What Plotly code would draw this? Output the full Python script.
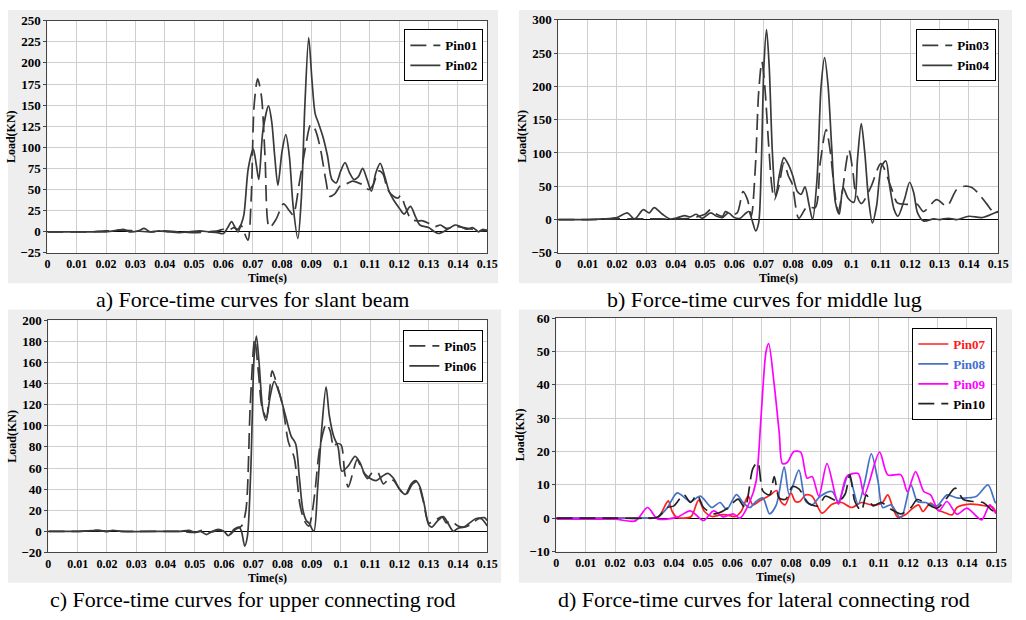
import plotly.graph_objects as go

# ---------------- data (time s, load kN) ----------------
PIN01 = [(0,0),(0.005,0),(0.01,0),(0.015,0),(0.02,1),(0.025,2),(0.03,1),(0.035,0),(0.04,1),(0.045,0),
         (0.05,-1),(0.055,0),(0.058,1),(0.06,3),(0.062,2),(0.0635,5),(0.065,3),(0.066,8),(0.067,0),(0.0684,-10),
         (0.0695,40),(0.0705,150),(0.0717,181),(0.073,160),(0.0742,90),(0.0757,5),(0.078,15),(0.0805,33),(0.0825,25),
         (0.0838,20),(0.086,60),(0.088,100),(0.0898,127),(0.0912,122),(0.093,100),(0.095,60),(0.0962,42),(0.098,45),
         (0.1,55),(0.102,57),(0.104,60),(0.106,58),(0.108,55),(0.1095,50),(0.111,55),(0.113,72),(0.1145,68),(0.116,50),
         (0.118,42),(0.1195,40),(0.1205,43),(0.122,30),(0.124,15),(0.126,13),(0.128,13),(0.13,10),(0.132,6),(0.134,8),
         (0.136,4),(0.138,5),(0.14,6),(0.142,5),(0.145,3),(0.147,1),(0.15,2)]
PIN02 = [(0,0),(0.01,0),(0.02,0),(0.024,2),(0.026,3),(0.028,0),(0.031,1),(0.033,4),(0.035,0),(0.038,1),(0.041,0),
         (0.045,-1),(0.048,0),(0.052,1),(0.055,0),(0.058,-1),(0.06,-2),(0.0615,5),(0.0628,12),(0.064,5),(0.065,0),
         (0.066,8),(0.067,20),(0.0685,75),(0.0702,98),(0.0712,80),(0.0721,62),(0.0735,120),(0.0754,149),(0.0765,130),
         (0.0775,90),(0.0786,55),(0.08,95),(0.0813,115),(0.0825,90),(0.0838,30),(0.0854,-8),(0.0866,40),(0.0878,150),
         (0.0891,230),(0.0902,180),(0.0913,140),(0.0925,128),(0.094,112),(0.0955,90),(0.097,62),(0.0985,58),(0.1,72),
         (0.1015,82),(0.103,70),(0.1045,62),(0.106,65),(0.1075,75),(0.109,62),(0.1105,48),(0.112,70),(0.1135,81),
         (0.115,66),(0.1165,48),(0.118,38),(0.12,28),(0.1216,21),(0.1238,30),(0.1255,18),(0.127,8),(0.13,5),(0.132,0),
         (0.1334,-2),(0.136,2),(0.139,8),(0.141,6),(0.143,3),(0.145,5),(0.147,0),(0.1485,3),(0.15,1)]
PIN03 = [(0,0),(0.01,0),(0.02,1),(0.03,1),(0.04,1),(0.045,2),(0.048,5),(0.05,8),(0.052,15),(0.054,8),(0.056,5),
         (0.057,12),(0.059,8),(0.061,10),(0.063,42),(0.0645,30),(0.0658,5),(0.0672,80),(0.0683,190),(0.0694,237),
         (0.0704,200),(0.0716,120),(0.0728,50),(0.0737,30),(0.0752,50),(0.0769,85),(0.0785,65),(0.0797,54),(0.082,2),
         (0.0848,19),(0.0876,18),(0.0893,85),(0.0913,135),(0.0928,100),(0.094,50),(0.0954,12),(0.0968,40),(0.098,80),
         (0.0991,105),(0.1005,70),(0.1012,45),(0.1033,24),(0.1066,49),(0.11,84),(0.1134,49),(0.1156,25),(0.118,23),
         (0.1205,23),(0.1224,23),(0.1245,12),(0.129,30),(0.1325,20),(0.1358,45),(0.1385,50),(0.141,48),(0.1435,38),
         (0.146,24),(0.1487,10),(0.15,12)]
PIN04 = [(0,0),(0.01,0),(0.015,1),(0.02,3),(0.0235,10),(0.026,1),(0.029,15),(0.031,10),(0.0327,18),(0.0355,8),
         (0.038,1),(0.04,2),(0.043,6),(0.045,4),(0.047,8),(0.049,2),(0.052,10),(0.054,5),(0.056,3),(0.058,10),(0.06,3),
         (0.062,2),(0.064,10),(0.065,12),(0.066,0),(0.0673,-17),(0.0683,-5),(0.0692,80),(0.0701,230),(0.071,285),
         (0.0719,230),(0.073,100),(0.0741,35),(0.0755,70),(0.0769,93),(0.0785,82),(0.08,65),(0.0815,42),(0.0828,38),
         (0.0841,49),(0.0855,22),(0.0867,0),(0.0882,60),(0.0896,200),(0.0908,243),(0.092,200),(0.0932,110),(0.0945,25),
         (0.0958,8),(0.0971,48),(0.0988,32),(0.1008,26),(0.102,90),(0.1033,144),(0.1045,100),(0.1058,30),(0.1071,-5),
         (0.1085,20),(0.1102,80),(0.1117,88),(0.113,50),(0.1145,15),(0.1158,5),(0.118,30),(0.1198,56),(0.1212,40),
         (0.1225,10),(0.1245,-2),(0.128,1),(0.13,0),(0.133,2),(0.1358,0),(0.14,5),(0.1445,3),(0.1487,10),(0.15,12)]
PIN05 = [(0,0),(0.01,0),(0.017,1),(0.02,0),(0.022,1),(0.025,0),(0.03,0),(0.04,0),(0.045,0),(0.05,-1),(0.053,1),
         (0.055,-1),(0.058,1),(0.06,0),(0.062,-3),(0.064,2),(0.066,5),(0.0675,20),(0.069,120),(0.0705,182),(0.0718,150),
         (0.073,118),(0.0745,108),(0.0755,130),(0.0765,152),(0.078,140),(0.08,120),(0.082,85),(0.084,70),(0.086,25),
         (0.0875,10),(0.089,5),(0.0898,12),(0.091,35),(0.0928,80),(0.095,102),(0.0963,95),(0.0975,80),(0.0985,83),
         (0.1,82),(0.1013,55),(0.1025,42),(0.104,55),(0.1055,68),(0.107,60),(0.109,50),(0.1105,55),(0.1125,56),
         (0.1145,45),(0.1165,50),(0.118,48),(0.12,40),(0.122,34),(0.1245,45),(0.126,47),(0.128,30),(0.13,8),(0.132,10),
         (0.1345,14),(0.136,8),(0.1375,10),(0.14,5),(0.142,4),(0.144,6),(0.147,12),(0.149,13),(0.15,10)]
PIN06 = [(0,0),(0.01,0),(0.017,1),(0.02,0),(0.022,1),(0.025,0),(0.04,0),(0.045,0),(0.048,1),(0.05,-1),(0.052,0),
         (0.054,-3),(0.056,0),(0.058,2),(0.06,0),(0.0615,-4),(0.0635,2),(0.0652,4),(0.066,0),(0.0671,-14),(0.068,-5),
         (0.0692,60),(0.0703,165),(0.0711,185),(0.072,160),(0.0733,115),(0.0744,105),(0.0758,128),(0.0772,142),
         (0.079,130),(0.081,110),(0.083,90),(0.0845,83),(0.0858,50),(0.087,20),(0.0882,10),(0.089,8),(0.0907,0),
         (0.092,40),(0.0935,100),(0.0949,137),(0.096,110),(0.0975,90),(0.099,80),(0.1003,57),(0.1025,62),(0.1048,71),
         (0.1065,65),(0.108,55),(0.11,50),(0.112,48),(0.114,52),(0.116,55),(0.118,50),(0.12,40),(0.122,35),(0.124,45),
         (0.1255,48),(0.127,42),(0.1285,25),(0.13,6),(0.1311,4),(0.133,10),(0.135,14),(0.1365,8),(0.1384,0),(0.14,3),
         (0.142,4),(0.144,8),(0.146,12),(0.148,12),(0.15,5)]
PIN07 = [(0,0),(0.01,0),(0.02,0),(0.03,0),(0.033,0),(0.035,0.5),(0.0375,4.5),(0.0382,5.2),(0.0395,2),(0.041,0.3),
         (0.0435,0),(0.046,0.5),(0.0485,5.4),(0.0505,2),(0.053,0.5),(0.056,1),(0.058,1),(0.061,0.5),(0.063,2),
         (0.0654,6.6),(0.067,4),(0.069,5),(0.071,6),(0.073,7),(0.0751,8.3),(0.0765,5),(0.078,4),(0.08,7.5),(0.0815,5),
         (0.083,5),(0.085,7),(0.0872,6.6),(0.0906,1.5),(0.094,4.2),(0.0973,4.7),(0.1007,3.2),(0.104,4.7),(0.1074,4),
         (0.111,4.5),(0.113,7),(0.1148,3),(0.1164,0.3),(0.119,1),(0.1209,2.5),(0.1235,4),(0.125,2),(0.1276,4.5),
         (0.13,2.5),(0.132,1.8),(0.135,1),(0.1366,3.2),(0.141,4.2),(0.1455,3.8),(0.1488,3.3),(0.15,1.5)]
PIN08 = [(0,0),(0.01,0),(0.02,0),(0.03,0),(0.0345,0.3),(0.0379,3.2),(0.0412,7.6),(0.0457,5),(0.0491,6.6),(0.053,3.2),
         (0.0558,4.7),(0.0581,2.6),(0.0614,7.1),(0.0637,4.7),(0.066,3.2),(0.0681,5),(0.0704,6.1),(0.0727,1.3),
         (0.075,4),(0.0777,15.4),(0.0794,7.1),(0.0827,14.4),(0.085,5.1),(0.0872,4),(0.09,6.6),(0.094,8),(0.0962,5),
         (0.0996,13),(0.1029,4.2),(0.1052,11),(0.1074,19.3),(0.1097,11),(0.1113,3.2),(0.1141,4),(0.1175,0),(0.1209,10),
         (0.1231,5),(0.1259,4.7),(0.1298,3.7),(0.1332,7),(0.1366,6.1),(0.14,6.1),(0.1433,6.6),(0.1472,10),(0.1495,5),
         (0.15,4.5)]
PIN09 = [(0,-0.3),(0.01,-0.3),(0.02,-0.3),(0.027,-0.8),(0.0311,3.2),(0.0345,-0.2),(0.0412,0.3),(0.0457,2.2),
         (0.0502,-0.7),(0.0536,2.2),(0.0569,0.4),(0.0603,1.3),(0.0626,0),(0.066,5),(0.0681,11),(0.0698,30.5),
         (0.0715,50),(0.0724,52.4),(0.0743,40),(0.076,25.6),(0.0771,16.4),(0.0788,16.8),(0.081,20),(0.0833,19.8),
         (0.0855,12),(0.0872,12.5),(0.0895,6.6),(0.0923,16.4),(0.0962,4.2),(0.099,12.5),(0.1029,13.4),(0.105,7),
         (0.1102,19.8),(0.113,13),(0.1175,13),(0.1197,8),(0.1225,14),(0.1253,8),(0.1276,7),(0.1304,2.2),(0.1332,5),
         (0.1366,1.2),(0.14,3),(0.145,-0.5),(0.1478,4),(0.1498,1.5),(0.15,1.5)]
PIN10 = [(0,0),(0.01,0),(0.02,0),(0.03,0),(0.0345,0.3),(0.0379,3.2),(0.0401,3.7),(0.0435,7.1),(0.0457,4.7),
         (0.048,7),(0.0502,3.2),(0.0536,1.3),(0.057,2.2),(0.0603,4.7),(0.062,5.7),(0.0643,3.2),(0.067,14.9),
         (0.0687,16.8),(0.0704,8.2),(0.0727,7),(0.0743,12.5),(0.076,6),(0.0782,5.7),(0.0805,9.5),(0.0827,8.8),
         (0.0861,4.4),(0.0895,3.7),(0.0917,6.6),(0.0962,5.1),(0.0984,7.1),(0.1001,13),(0.1018,5),(0.104,2.2),
         (0.1057,7),(0.108,3.7),(0.1107,4.7),(0.1141,2.7),(0.1175,1.3),(0.1209,3.2),(0.1231,5.6),(0.1265,4.2),
         (0.1298,3),(0.1332,6.1),(0.136,9),(0.1388,5.6),(0.1422,5),(0.1455,4.7),(0.1489,2.2),(0.15,2.5)]

CAPTIONS = ["a) Force-time curves for slant beam", "b) Force-time curves for middle lug",
            "c) Force-time curves for upper connecting rod", "d) Force-time curves for lateral connecting rod"]
X_TITLE = "Time(s)"
Y_TITLE = "Load(KN)"
Y_RANGES = [(-25, 250, 25), (-50, 300, 50), (-20, 200, 20), (-10, 60, 10)]

# ---------------- layout geometry ----------------
W, H = 1026, 620
def px(x): return x / W
def py(y): return 1 - y / H

# plot areas (left, right, top, bottom) in pixels
AREAS = [(45, 491, 14, 252), (563, 1009, 13, 252), (46, 491, 321, 559), (561, 1007, 319, 558)]
PANELS = [(5, 502, 3, 283), (523, 1023, 3, 283), (5, 505, 310, 590), (523, 1023, 310, 590)]
CAP_POS = [(253, 300), (772, 300), (253, 607), (772, 607)]
XT_POS = [(268, 278), (786, 278), (268, 585), (783, 584)]
LEG_POS = [(487, 23), (1007, 23), (487, 331), (1003, 329)]

GRAY = "#3a3a3a"
DASH = "16px,7px"
SERIF = "Liberation Serif"

fig = go.Figure()

def add(pts, name, idx, color, dash=None):
    sfx = "" if idx == 0 else str(idx + 1)
    fig.add_trace(go.Scatter(
        x=[p[0] for p in pts], y=[p[1] for p in pts], mode="lines", name=name,
        line=dict(color=color, width=1.7, dash=dash, shape="spline", smoothing=0.8),
        xaxis="x" + sfx, yaxis="y" + sfx, legend="legend" + sfx))

add(PIN01, "Pin01", 0, GRAY, DASH)
add(PIN02, "Pin02", 0, GRAY)
add(PIN03, "Pin03", 1, GRAY, DASH)
add(PIN04, "Pin04", 1, GRAY)
add(PIN05, "Pin05", 2, GRAY, DASH)
add(PIN06, "Pin06", 2, GRAY)
add(PIN07, '<span style="color:#ff1a1a">Pin07</span>', 3, "#ff2020")
add(PIN08, '<span style="color:#3f6fd0">Pin08</span>', 3, "#4472c4")
add(PIN09, '<span style="color:#ff00ff">Pin09</span>', 3, "#ff00ff")
add(PIN10, "Pin10", 3, "#222222", DASH)

layout = dict(width=W, height=H, margin=dict(l=0, r=0, t=0, b=0),
              paper_bgcolor="white", plot_bgcolor="white", showlegend=True,
              font=dict(family=SERIF, color="black"))
shapes, annotations = [], []
ytickfont = dict(family=SERIF, size=13, weight="bold", color="black")
xtickfont = dict(family=SERIF, size=12, weight="bold", color="black")
for i in range(4):
    sfx = "" if i == 0 else str(i + 1)
    l, r, t, b = AREAS[i]
    lo, hi, dt = Y_RANGES[i]
    layout["xaxis" + sfx] = dict(
        domain=[px(l), px(r)], anchor="y" + sfx, range=[0, 0.15], dtick=0.01, tick0=0,
        showgrid=True, gridcolor="#cfcfcf", gridwidth=1, showline=True, linecolor="#444", mirror=True,
        ticks="", tickfont=xtickfont, zeroline=False)
    layout["yaxis" + sfx] = dict(
        domain=[py(b), py(t)], anchor="x" + sfx, range=[lo, hi], dtick=dt, tick0=0,
        showgrid=True, gridcolor="#cfcfcf", gridwidth=1, showline=True, linecolor="#444", mirror=True,
        ticks="outside", ticklen=3, tickcolor="#444", tickfont=ytickfont,
        zeroline=True, zerolinecolor="black", zerolinewidth=1,
        title=dict(text=Y_TITLE, font=dict(family=SERIF, size=12, weight="bold"), standoff=2))
    lx, ly = LEG_POS[i]
    layout["legend" + sfx] = dict(
        x=px(lx), y=py(ly), xanchor="right", yanchor="top", bgcolor="white",
        bordercolor="black", borderwidth=1, tracegroupgap=0,
        font=dict(family=SERIF, size=13, weight="bold", color="black"))
    x0, x1, y0, y1 = PANELS[i]
    shapes.append(dict(type="rect", xref="paper", yref="paper", x0=px(x0), x1=px(x1), y0=py(y1), y1=py(y0),
                       fillcolor="#eeeeee", line=dict(width=0), layer="below"))
    shapes.append(dict(type="rect", xref="paper", yref="paper", x0=px(l), x1=px(r), y0=py(b), y1=py(t),
                       fillcolor="white", line=dict(width=0), layer="below"))
    tx, ty = XT_POS[i]
    annotations.append(dict(text=X_TITLE, xref="paper", yref="paper", x=px(tx), y=py(ty),
                            xanchor="center", yanchor="middle", showarrow=False,
                            font=dict(family=SERIF, size=12, weight="bold", color="black")))
    cx, cy = CAP_POS[i]
    annotations.append(dict(text=CAPTIONS[i], xref="paper", yref="paper", x=px(cx), y=py(cy),
                            xanchor="center", yanchor="middle", showarrow=False,
                            font=dict(family=SERIF, size=22, color="black")))
layout["shapes"] = shapes
layout["annotations"] = annotations
fig.update_layout(**layout)
fig.write_html("out.html")
